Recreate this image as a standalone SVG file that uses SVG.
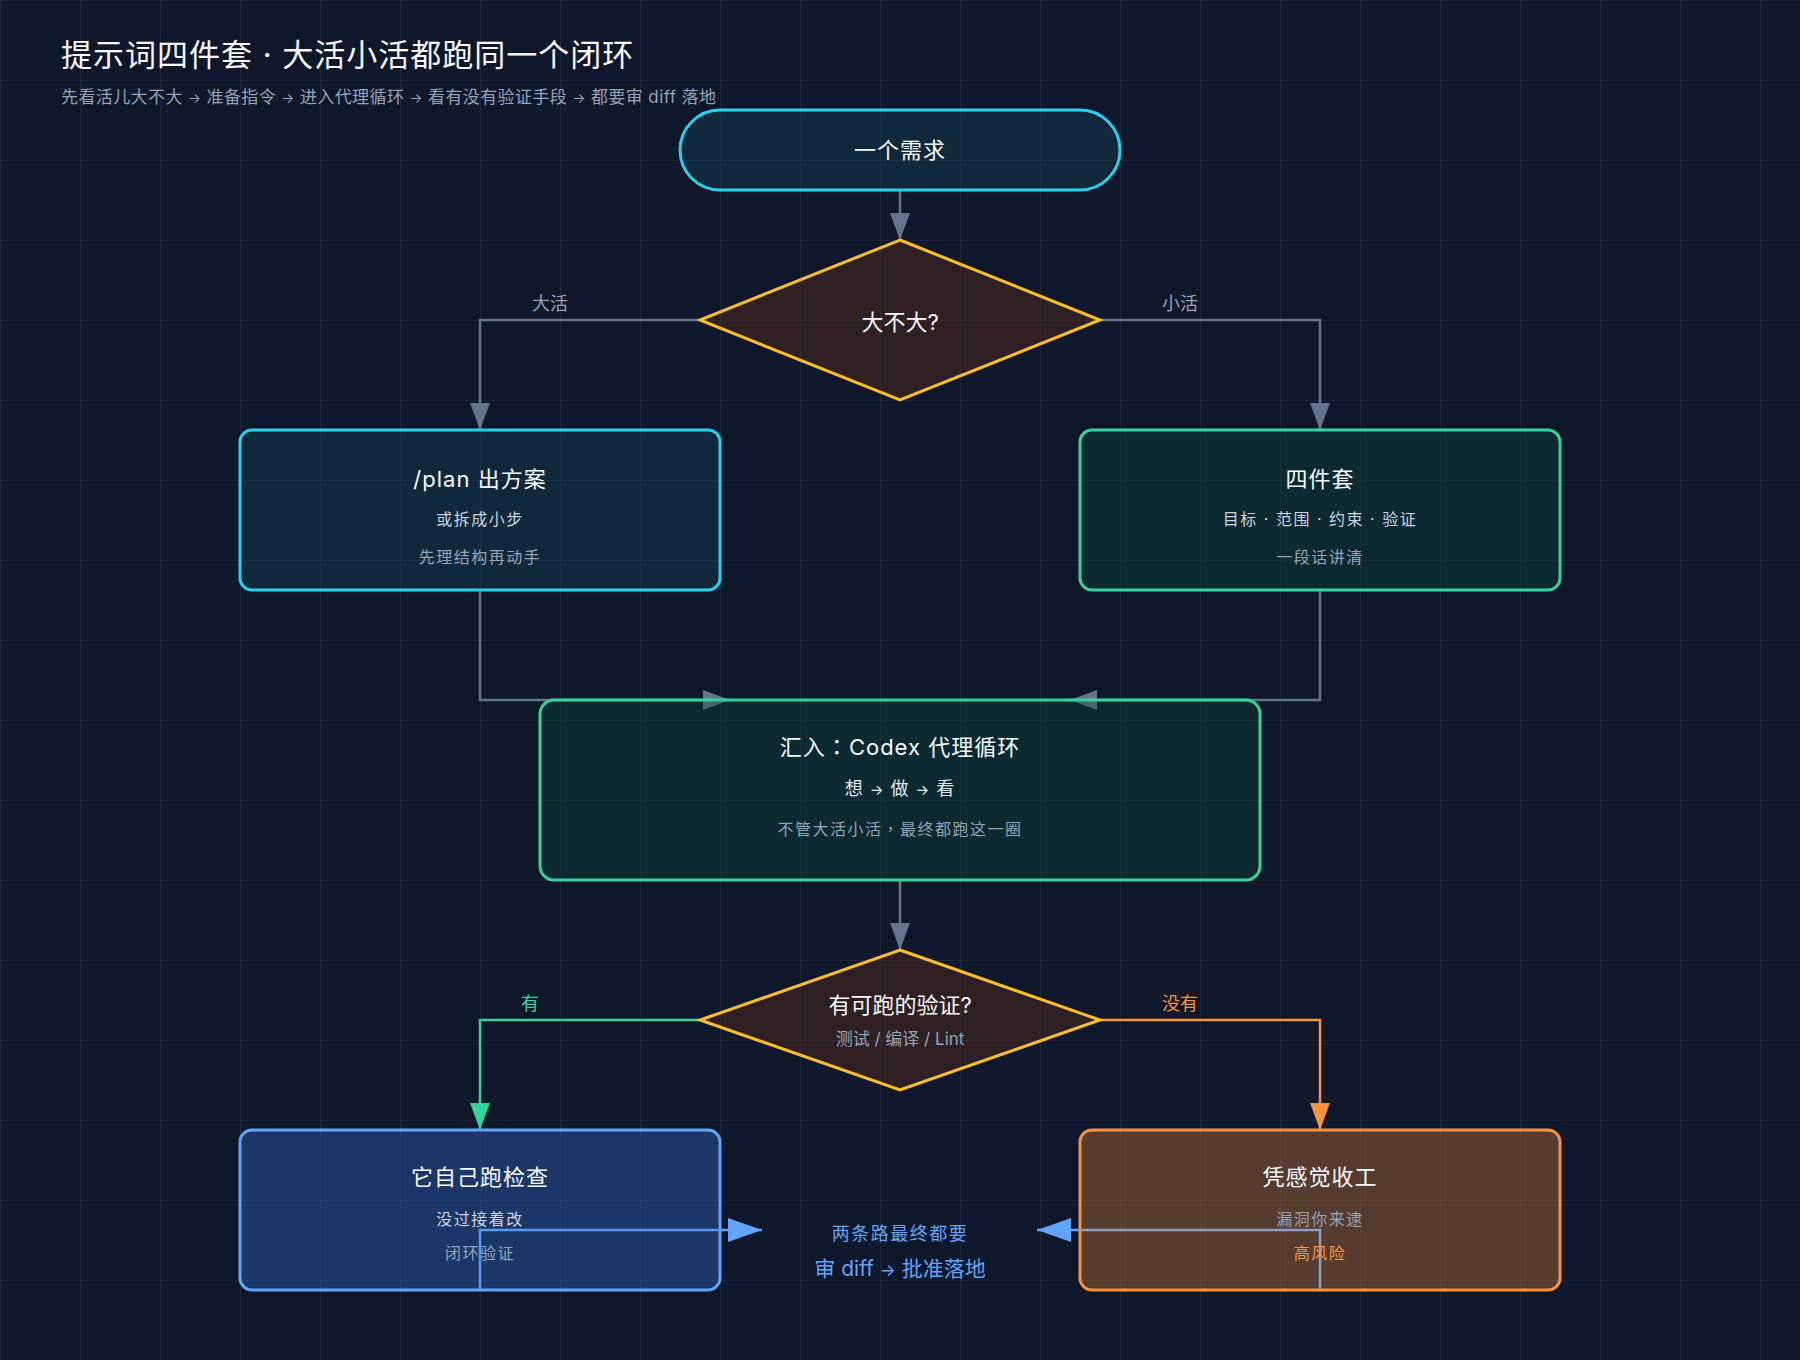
<svg xmlns="http://www.w3.org/2000/svg" width="1800" height="1360" viewBox="0 0 1800 1360">
  <defs>
    <pattern id="grid" x="0" y="0" width="80" height="80" patternUnits="userSpaceOnUse">
      <rect x="0" y="0" width="1" height="80" fill="#1c2638"/>
      <rect x="0" y="0" width="80" height="1" fill="#1c2638"/>
    </pattern>
    <marker id="arrGray" markerUnits="userSpaceOnUse" viewBox="0 0 27 20" refX="27" refY="10" markerWidth="27" markerHeight="20" orient="auto">
      <path d="M0,0 L27,10 L0,20 Z" fill="#64748b"/>
    </marker>
    <marker id="arrGreen" markerUnits="userSpaceOnUse" viewBox="0 0 27 20" refX="27" refY="10" markerWidth="27" markerHeight="20" orient="auto">
      <path d="M0,0 L27,10 L0,20 Z" fill="#34d399"/>
    </marker>
    <marker id="arrOrange" markerUnits="userSpaceOnUse" viewBox="0 0 27 20" refX="27" refY="10" markerWidth="27" markerHeight="20" orient="auto">
      <path d="M0,0 L27,10 L0,20 Z" fill="#fb923c"/>
    </marker>
    <marker id="arrBlue" markerUnits="userSpaceOnUse" viewBox="0 0 34 24" refX="34" refY="12" markerWidth="34" markerHeight="24" orient="auto">
      <path d="M0,0 L34,12 L0,24 Z" fill="#60a5fa"/>
    </marker>
  </defs>
  <style>
    text { font-family: Inter, "Noto Sans CJK SC", sans-serif; }
    .arr { font-size: 80%; }
    .punct { font-family: "Noto Sans CJK TC", "Noto Sans CJK SC", sans-serif; }
    .title { font-size: 31px; fill: #f8fafc; letter-spacing: 1px; }
    .subtitle { font-size: 17px; fill: #94a3b8; letter-spacing: 0.4px; }
    .ntitle { font-size: 22px; fill: #f8fafc; text-anchor: middle; letter-spacing: 1px; }
    .dtitle { font-size: 22px; fill: #f8fafc; text-anchor: middle; }
    .l1 { font-size: 16px; fill: #cbd5e1; text-anchor: middle; letter-spacing: 1.5px; }
    .l2 { font-size: 16px; fill: #94a3b8; text-anchor: middle; letter-spacing: 1.5px; }
    .elabel { font-size: 18px; text-anchor: middle; }
    .conn { fill: none; stroke-width: 2.5; }
    .gray { stroke: #64748b; }
    .box { stroke-width: 3; }
    .cyan { stroke: #22d3ee; fill: #164e63; fill-opacity: 0.3; }
    .green { stroke: #34d399; fill: #064e3b; fill-opacity: 0.35; }
    .dia { stroke: #fbbf24; fill: #78350f; fill-opacity: 0.3; stroke-width: 3; stroke-linejoin: miter; }
    .blue { stroke: #60a5fa; fill: #3b82f6; fill-opacity: 0.3; }
    .orange { stroke: #fb923c; fill: #fb923c; fill-opacity: 0.3; }
  </style>

  <rect x="0" y="0" width="1800" height="1360" fill="#0f172a"/>
  <rect x="0" y="0" width="1800" height="1360" fill="url(#grid)"/>

  <text class="title" x="61" y="66">提示词四件套 · 大活小活都跑同一个闭环</text>
  <text class="subtitle" x="61" y="103">先看活儿大不大 <tspan class="arr">→</tspan> 准备指令 <tspan class="arr">→</tspan> 进入代理循环 <tspan class="arr">→</tspan> 看有没有验证手段 <tspan class="arr">→</tspan> 都要审 diff 落地</text>

  <g id="connectors">
    <path class="conn gray" d="M900,190 V240" marker-end="url(#arrGray)"/>
    <path class="conn gray" d="M700,320 H480 V430" marker-end="url(#arrGray)"/>
    <text class="elabel" x="550" y="310" fill="#94a3b8">大活</text>
    <path class="conn gray" d="M1100,320 H1320 V430" marker-end="url(#arrGray)"/>
    <text class="elabel" x="1180" y="310" fill="#94a3b8">小活</text>
    <path class="conn gray" d="M480,590 V700 H730" marker-end="url(#arrGray)"/>
    <path class="conn gray" d="M1320,590 V700 H1070" marker-end="url(#arrGray)"/>
    <path class="conn gray" d="M900,880 V950" marker-end="url(#arrGray)"/>
    <path class="conn" stroke="#34d399" d="M700,1020 H480 V1130" marker-end="url(#arrGreen)"/>
    <text class="elabel" x="530" y="1010" fill="#34d399">有</text>
    <path class="conn" stroke="#fb923c" d="M1100,1020 H1320 V1130" marker-end="url(#arrOrange)"/>
    <text class="elabel" x="1180" y="1010" fill="#fb923c">没有</text>
    <path class="conn" stroke="#60a5fa" stroke-width="3" d="M480,1290 V1230 H762" marker-end="url(#arrBlue)"/>
    <path class="conn" stroke="#60a5fa" stroke-width="3" d="M1320,1290 V1230 H1037" marker-end="url(#arrBlue)"/>
  </g>

  <g id="start">
    <rect class="box cyan" x="680" y="110" width="440" height="80" rx="40"/>
    <text class="ntitle" x="900" y="158">一个需求</text>
  </g>

  <g id="size-check">
    <polygon class="dia" points="900,240 1100,320 900,400 700,320"/>
    <text class="dtitle" x="900" y="330">大不大?</text>
  </g>

  <g id="plan">
    <rect class="box cyan" x="240" y="430" width="480" height="160" rx="12"/>
    <text class="ntitle" x="480" y="487">/plan 出方案</text>
    <text class="l1" x="480" y="525">或拆成小步</text>
    <text class="l2" x="480" y="563">先理结构再动手</text>
  </g>

  <g id="four-piece">
    <rect class="box green" x="1080" y="430" width="480" height="160" rx="12"/>
    <text class="ntitle" x="1320" y="487">四件套</text>
    <text class="l1" x="1320" y="525">目标 · 范围 · 约束 · 验证</text>
    <text class="l2" x="1320" y="563">一段话讲清</text>
  </g>

  <g id="agent-loop">
    <rect class="box green" x="540" y="700" width="720" height="180" rx="14"/>
    <text class="ntitle" x="900" y="755">汇入<tspan class="punct">：</tspan>Codex 代理循环</text>
    <text x="900" y="795" font-size="18" fill="#e2e8f0" text-anchor="middle" letter-spacing="1">想 <tspan class="arr">→</tspan> 做 <tspan class="arr">→</tspan> 看</text>
    <text class="l2" x="900" y="835">不管大活小活<tspan class="punct">，</tspan>最终都跑这一圈</text>
  </g>

  <g id="verify-check">
    <polygon class="dia" points="900,950 1100,1020 900,1090 700,1020"/>
    <text class="dtitle" x="900" y="1013">有可跑的验证?</text>
    <text x="900" y="1045" font-size="17" fill="#94a3b8" text-anchor="middle">测试 / 编译 / Lint</text>
  </g>

  <g id="self-check">
    <rect class="box blue" x="240" y="1130" width="480" height="160" rx="12"/>
    <text class="ntitle" x="480" y="1185">它自己跑检查</text>
    <text class="l1" x="480" y="1225">没过接着改</text>
    <text class="l2" x="480" y="1259">闭环验证</text>
  </g>

  <g id="gut-feel">
    <rect class="box orange" x="1080" y="1130" width="480" height="160" rx="12"/>
    <text class="ntitle" x="1320" y="1185">凭感觉收工</text>
    <text class="l2" x="1320" y="1225">漏洞你来逮</text>
    <text x="1320" y="1259" font-size="16" fill="#fb923c" text-anchor="middle" letter-spacing="1.5">高风险</text>
  </g>

  <g id="review">
    <text x="900" y="1240" font-size="18" fill="#60a5fa" text-anchor="middle" letter-spacing="1.5">两条路最终都要</text>
    <text x="900" y="1276" font-size="21" fill="#60a5fa" text-anchor="middle">审 diff <tspan class="arr">→</tspan> 批准落地</text>
  </g>
</svg>
